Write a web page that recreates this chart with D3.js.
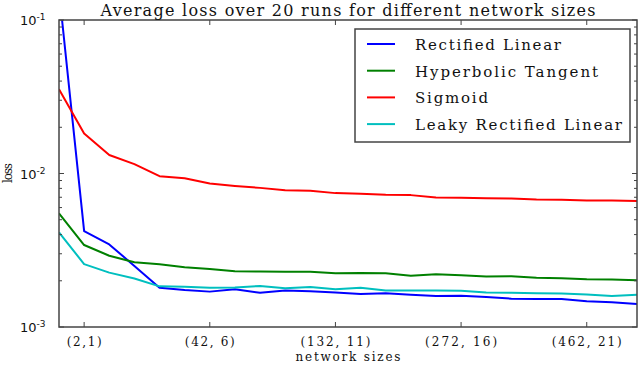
<!DOCTYPE html>
<html><head><meta charset="utf-8">
<script src="https://cdn.jsdelivr.net/npm/d3@7"></script>
<style>
html,body{margin:0;padding:0;background:#fff;}
svg{display:block;}
</style></head>
<body>
<svg id="chart" width="640" height="365"></svg>
<script>
const xIndex = d3.range(0, 24);
const xTickValues = [1, 6, 11, 16, 21];
const xTickLabels = ["(2,1)", "(42, 6)", "(132, 11)", "(272, 16)", "(462, 21)"];
const yTickValues = [1e-3, 1e-2, 1e-1];
const yTickExponents = ["-3", "-2", "-1"];
const seriesNames = ["Rectified Linear", "Hyperbolic Tangent", "Sigmoid", "Leaky Rectified Linear"];
const seriesColors = ["#0000ff", "#008000", "#ff0000", "#00bfbf"];
const reluLoss = [0.155, 0.00421, 0.00345, 0.00250, 0.00180, 0.00174, 0.00170, 0.00176, 0.00167, 0.00173, 0.00171, 0.00168, 0.00164, 0.00166, 0.00162, 0.00159, 0.00160, 0.00157, 0.00153, 0.00152, 0.00152, 0.00147, 0.00145, 0.00141];
const tanhLoss = [0.00550, 0.00342, 0.00291, 0.00264, 0.00256, 0.00245, 0.00239, 0.00231, 0.00230, 0.00229, 0.00229, 0.00224, 0.00225, 0.00224, 0.00216, 0.00221, 0.00217, 0.00213, 0.00214, 0.00209, 0.00208, 0.00205, 0.00204, 0.00202];
const sigmoidLoss = [0.0354, 0.0182, 0.0132, 0.0115, 0.0096, 0.0093, 0.0086, 0.0083, 0.00806, 0.00779, 0.00771, 0.00745, 0.00737, 0.00726, 0.00723, 0.00698, 0.00694, 0.00691, 0.00688, 0.00678, 0.00674, 0.00668, 0.00668, 0.00661];
const leakyLoss = [0.00413, 0.00257, 0.00226, 0.00207, 0.00184, 0.00183, 0.00180, 0.00181, 0.00185, 0.00179, 0.00182, 0.00176, 0.00180, 0.00173, 0.00173, 0.00173, 0.00172, 0.00168, 0.00167, 0.00166, 0.00165, 0.00163, 0.00159, 0.00162];
const allSeries = [reluLoss, tanhLoss, sigmoidLoss, leakyLoss];

const svg = d3.select("#chart");
const L = 59, R = 637, T = 20, B = 327;
const x = d3.scaleLinear().domain([0, 23]).range([L, R]);
const y = d3.scaleLog().domain([1e-3, 1e-1]).range([B, T]);
const serif = "'DejaVu Serif', serif";
const sans = "'DejaVu Sans', sans-serif";

svg.append("clipPath").attr("id", "clip").append("rect")
  .attr("x", L).attr("y", T).attr("width", R - L).attr("height", B - T);

// lines
const line = d3.line().x((d, i) => x(xIndex[i])).y(d => y(d));
const g = svg.append("g").attr("clip-path", "url(#clip)");
allSeries.forEach((s, k) => {
  g.append("path").datum(s).attr("d", line)
    .attr("fill", "none").attr("stroke", seriesColors[k])
    .attr("stroke-width", 2).attr("stroke-linejoin", "round");
});

// ticks
const frameColor = "#444";
const minor = [];
[1e-3, 1e-2].forEach(dec => { for (let m = 2; m <= 9; m++) minor.push(dec * m); });
const tk = svg.append("g").attr("stroke", frameColor).attr("stroke-width", 1);
xTickValues.forEach(v => {
  tk.append("line").attr("x1", x(v)).attr("x2", x(v)).attr("y1", B).attr("y2", B - 5);
  tk.append("line").attr("x1", x(v)).attr("x2", x(v)).attr("y1", T).attr("y2", T + 5);
});
yTickValues.forEach(v => {
  tk.append("line").attr("x1", L).attr("x2", L + 5).attr("y1", y(v)).attr("y2", y(v));
  tk.append("line").attr("x1", R).attr("x2", R - 5).attr("y1", y(v)).attr("y2", y(v));
});
minor.forEach(v => {
  tk.append("line").attr("x1", L).attr("x2", L + 3).attr("y1", y(v)).attr("y2", y(v));
  tk.append("line").attr("x1", R).attr("x2", R - 3).attr("y1", y(v)).attr("y2", y(v));
});

// frame
svg.append("rect").attr("x", L).attr("y", T).attr("width", R - L).attr("height", B - T)
  .attr("fill", "none").attr("stroke", frameColor).attr("stroke-width", 1.5);

// x tick labels
const xLabelWidths = [35, 50, 70, 72, 70];
xTickValues.forEach((v, i) => {
  svg.append("text").attr("x", x(v)).attr("y", 346).attr("text-anchor", "middle")
    .attr("font-family", serif).attr("font-size", 12).attr("fill", "#111")
    .attr("textLength", xLabelWidths[i]).attr("lengthAdjust", "spacing")
    .text(xTickLabels[i]);
});
// y tick labels
yTickValues.forEach((v, i) => {
  const t = svg.append("text").attr("x", 20).attr("y", y(v) + 5)
    .attr("font-family", sans).attr("font-size", 13).attr("fill", "#111");
  t.append("tspan").text("10");
  t.append("tspan").attr("dy", -5).attr("font-size", 9).text(yTickExponents[i]);
});

// axis titles
svg.append("text").attr("x", 348).attr("y", 361).attr("text-anchor", "middle")
  .attr("font-family", serif).attr("font-size", 12).attr("fill", "#111")
  .attr("textLength", 105).attr("lengthAdjust", "spacing").text("network sizes");
svg.append("text").attr("transform", "translate(12,173) rotate(-90)").attr("text-anchor", "middle")
  .attr("font-family", serif).attr("font-size", 12).attr("fill", "#111")
  .attr("textLength", 20).attr("lengthAdjust", "spacing").text("loss");

// title
svg.append("text").attr("x", 348).attr("y", 16).attr("text-anchor", "middle")
  .attr("font-family", serif).attr("font-size", 16).attr("fill", "#111")
  .attr("textLength", 495).attr("lengthAdjust", "spacing")
  .text("Average loss over 20 runs for different network sizes");

// legend
const legendWidths = [146, 183, 73, 207];
const lg = svg.append("g");
lg.append("rect").attr("x", 355).attr("y", 29).attr("width", 275).attr("height", 113)
  .attr("fill", "#fff").attr("stroke", frameColor).attr("stroke-width", 1.5);
seriesNames.forEach((n, k) => {
  const yy = 44 + k * 26.7;
  lg.append("line").attr("x1", 367).attr("x2", 395).attr("y1", yy).attr("y2", yy)
    .attr("stroke", seriesColors[k]).attr("stroke-width", 2);
  lg.append("text").attr("x", 415).attr("y", yy + 6).attr("font-family", serif)
    .attr("font-size", 15).attr("fill", "#111")
    .attr("textLength", legendWidths[k]).attr("lengthAdjust", "spacing").text(n);
});
</script>
</body></html>
